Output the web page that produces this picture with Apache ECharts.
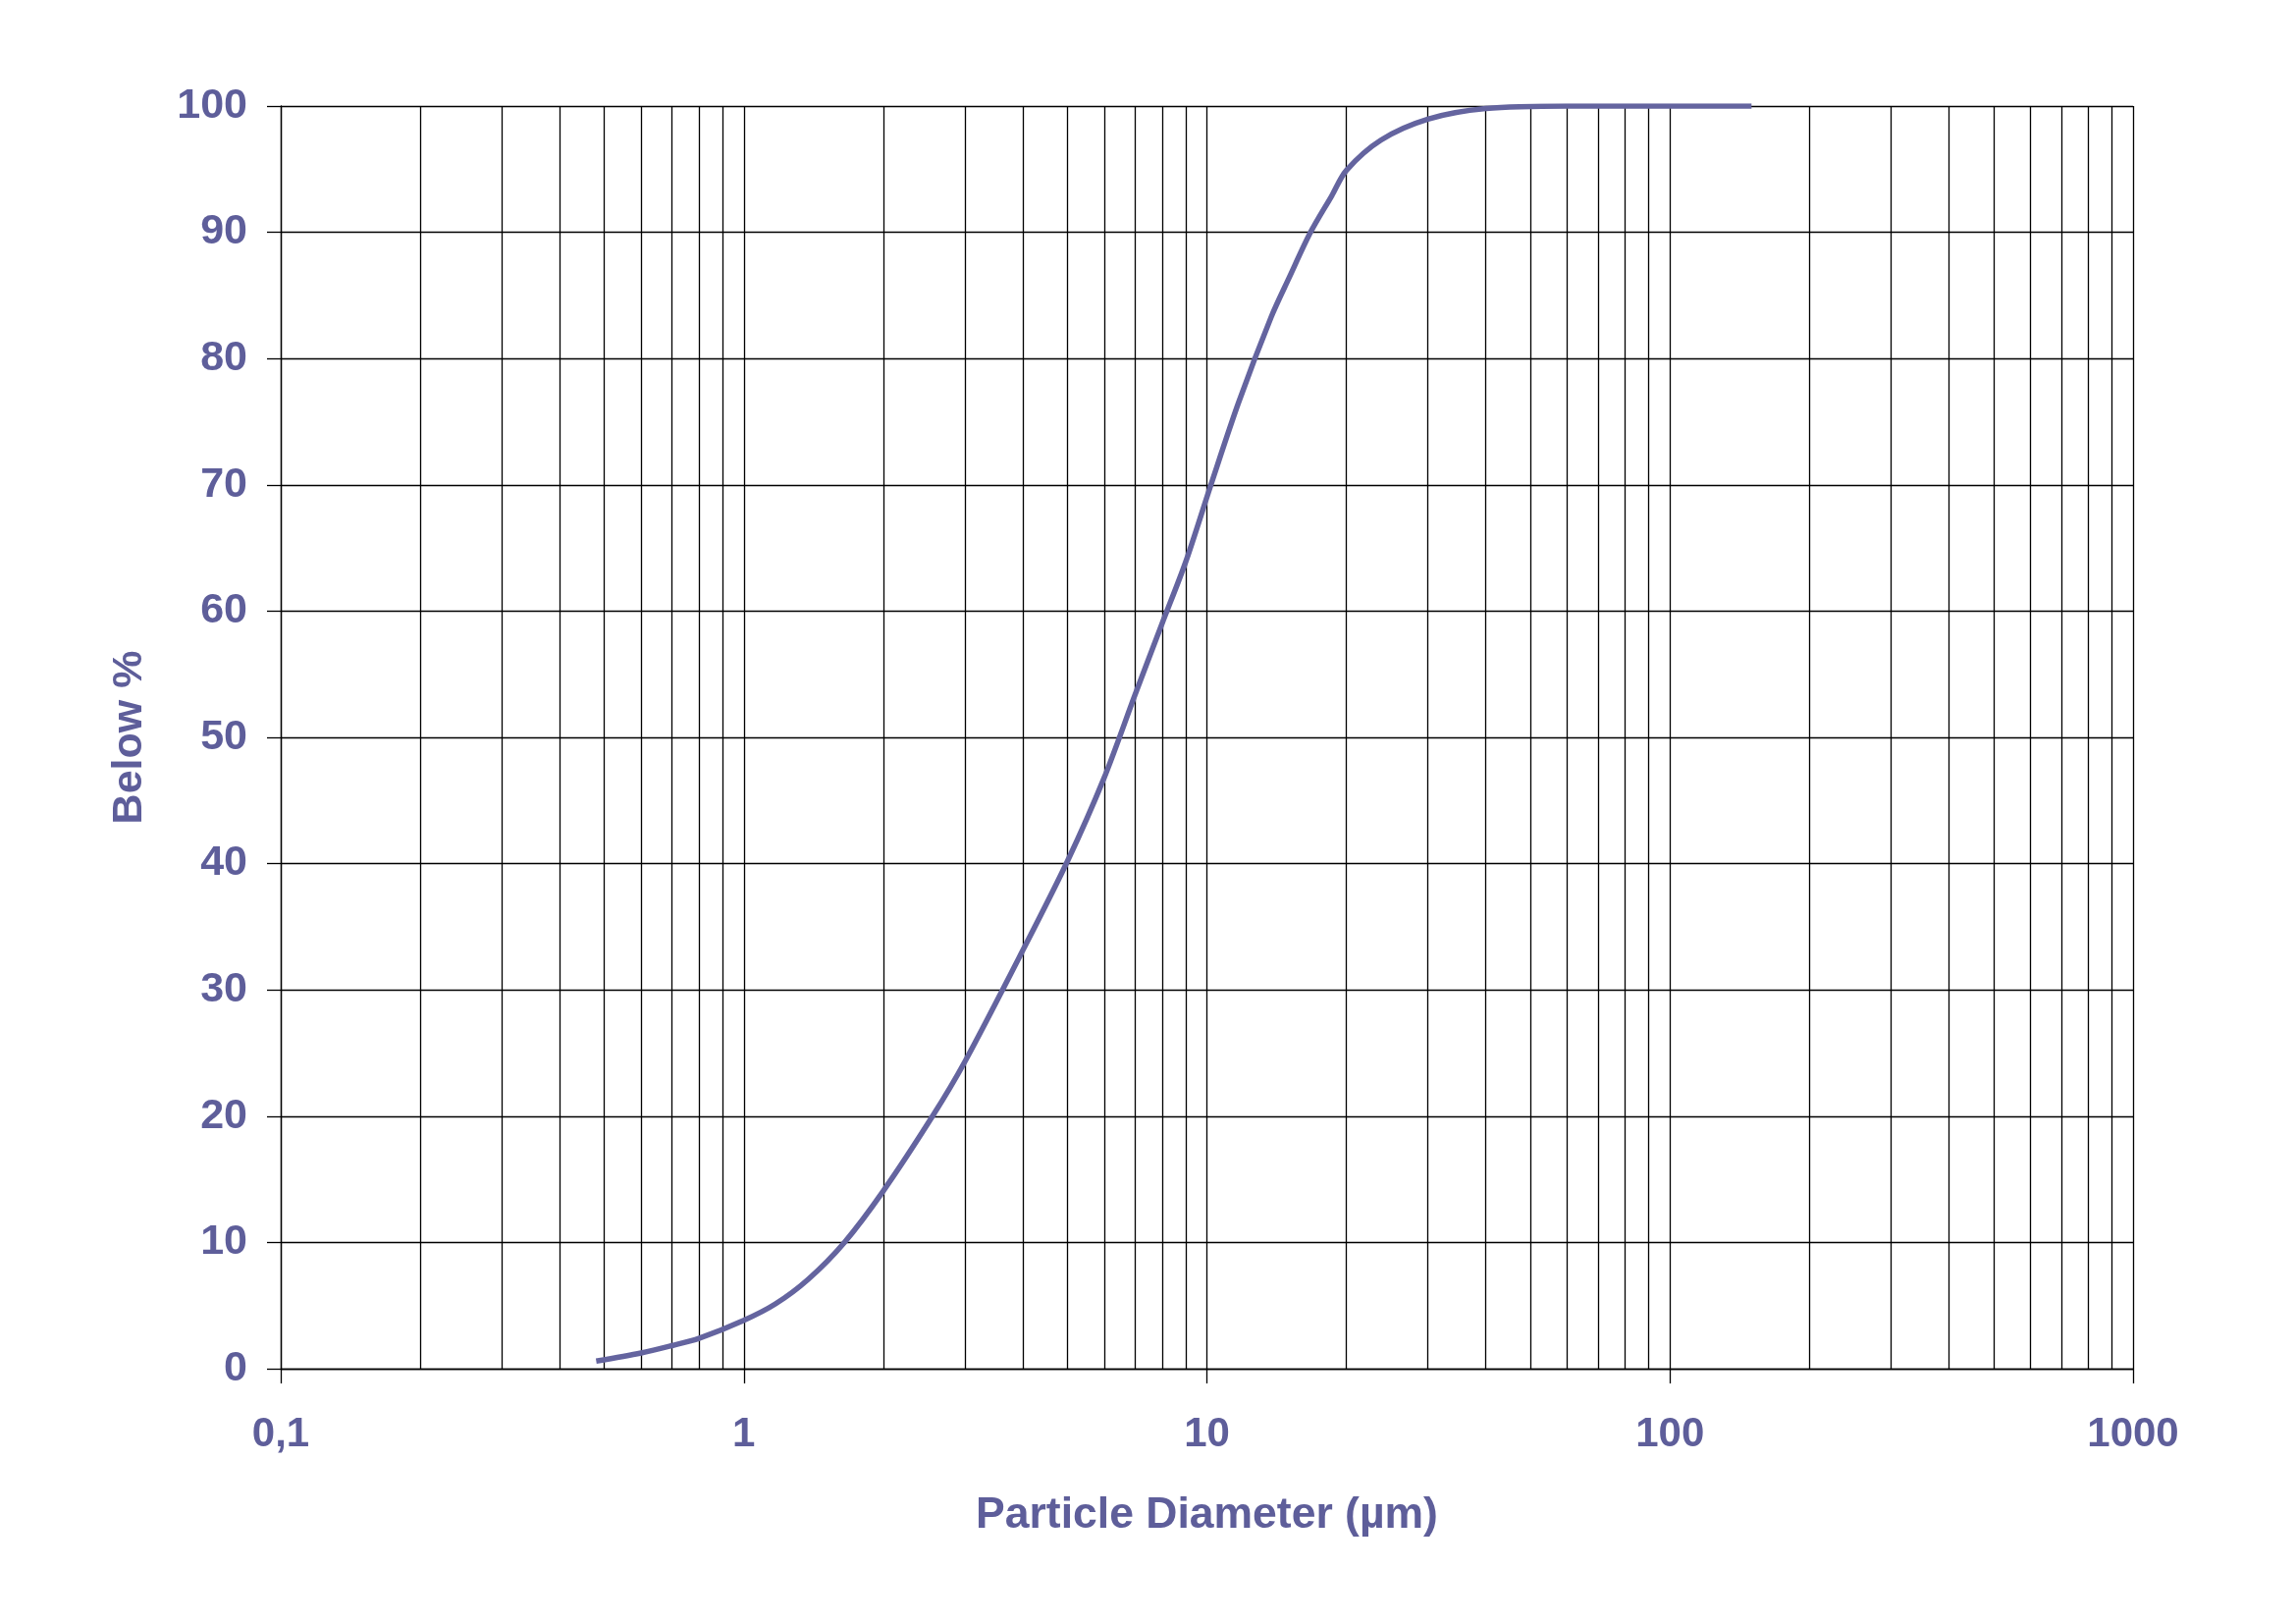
<!DOCTYPE html>
<html>
<head>
<meta charset="utf-8">
<script src="https://cdn.jsdelivr.net/npm/echarts@6/dist/echarts.min.js"></script>
<style>
html,body{margin:0;padding:0;background:#fff;}
#chart{width:2339px;height:1653px;}
</style>
</head>
<body>
<div id="chart"></div>
<script>
// Particle diameter (µm) and cumulative % below
var diameters = [0.48, 0.6, 0.7, 0.8, 1.0, 1.17, 1.377, 1.647, 2.0, 2.556, 3.0, 4.0, 5.0, 6.0, 7.0, 8.0, 9.0, 10.2, 11.7, 13.77, 15.05, 16.74, 18.61, 20, 23.75, 30, 40, 60, 100, 150];
var belowPct  = [0.6, 1.24, 1.83, 2.4, 3.83, 5.13, 7.08, 9.98, 14.07, 20.0, 24.3, 33.1, 40.2, 46.8, 53.4, 59.0, 63.9, 70.0, 76.5, 83.3, 86.4, 90.0, 92.9, 94.9, 97.3, 98.96, 99.8, 100, 100, 100];

// Axis ticks / labels
var xTickValues = [0.1, 1, 10, 100, 1000];
var xTickLabels = ['0,1', '1', '10', '100', '1000'];
var minorGridValues = [0.2,0.3,0.4,0.5,0.6,0.7,0.8,0.9, 2,3,4,5,6,7,8,9, 20,30,40,50,60,70,80,90, 200,300,400,500,600,700,800,900];

var xTitle = 'Particle Diameter (µm)';
var yTitle = 'Below %';

var textColor = '#5e5e9a';
var lineColor = '#64649f';
var fontFam = '"Liberation Sans", Arial, sans-serif';

var chart = echarts.init(document.getElementById('chart'), null, {renderer: 'canvas'});

var seriesData = diameters.map(function (d, i) { return [d, belowPct[i]]; });

chart.setOption({
  animation: false,
  backgroundColor: '#ffffff',
  grid: { left: 286, top: 108, right: 166, bottom: 259, containLabel: false },
  xAxis: {
    type: 'log',
    logBase: 10,
    min: 0.1,
    max: 1000,
    name: xTitle,
    nameLocation: 'middle',
    nameGap: 127,
    nameTextStyle: { color: textColor, fontFamily: fontFam, fontWeight: 'bold', fontSize: 44.5 },
    axisLine: { show: true, lineStyle: { color: '#000', width: 1.3 } },
    axisTick: { show: true, inside: false, length: 15, lineStyle: { color: '#000', width: 1.3 } },
    axisLabel: {
      color: textColor, fontFamily: fontFam, fontWeight: 'bold', fontSize: 42, margin: 46,
      formatter: function (v) {
        for (var i = 0; i < xTickValues.length; i++) {
          if (Math.abs(Math.log10(v) - Math.log10(xTickValues[i])) < 1e-6) return xTickLabels[i];
        }
        return '';
      }
    },
    splitLine: { show: true, lineStyle: { color: '#000', width: 1.3 } },
    minorTick: { show: false },
    minorSplitLine: { show: false }
  },
  yAxis: {
    type: 'value',
    min: 0,
    max: 100,
    interval: 10,
    name: yTitle,
    nameLocation: 'middle',
    nameGap: 132,
    nameRotate: 90,
    nameTextStyle: { color: textColor, fontFamily: fontFam, fontWeight: 'bold', fontSize: 43 },
    axisLine: { show: true, lineStyle: { color: '#000', width: 1.3 } },
    axisTick: { show: true, inside: false, length: 14, lineStyle: { color: '#000', width: 1.3 } },
    axisLabel: { color: textColor, fontFamily: fontFam, fontWeight: 'bold', fontSize: 43, margin: 34 },
    splitLine: { show: true, lineStyle: { color: '#000', width: 1.3 } }
  },
  series: [
    {
      type: 'line',
      data: seriesData,
      smooth: 0.3,
      showSymbol: false,
      symbol: 'none',
      lineStyle: { color: lineColor, width: 5.5 },
      z: 5,
      markLine: {
        silent: true,
        symbol: ['none', 'none'],
        label: { show: false },
        lineStyle: { color: '#000', width: 1.3, type: 'solid' },
        emphasis: { disabled: true },
        data: minorGridValues.map(function (v) { return { xAxis: v }; }),
        z: 1
      }
    }
  ]
});
</script>
</body>
</html>
